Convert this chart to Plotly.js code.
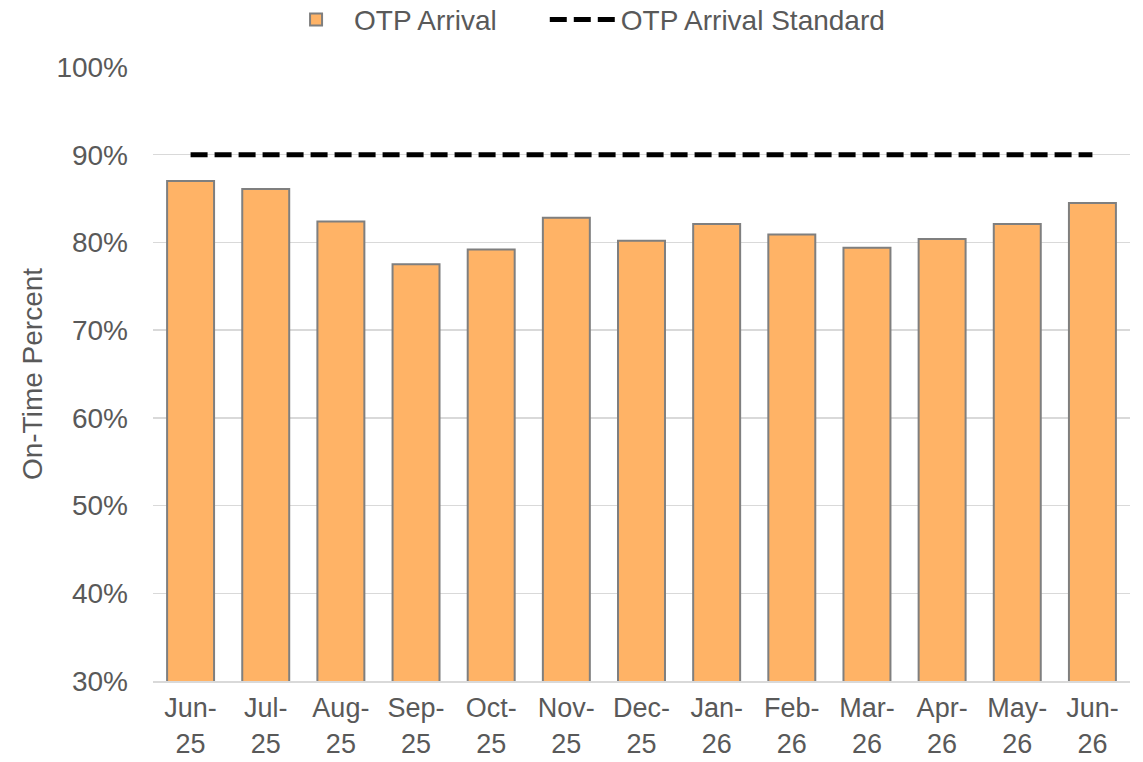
<!DOCTYPE html>
<html>
<head>
<meta charset="utf-8">
<script src="https://cdn.plot.ly/plotly-3.0.1.min.js"></script>
<style>html,body{margin:0;padding:0;background:#fff;}#chart{width:1143px;height:762px;}</style>
</head>
<body>
<div id="chart"></div>
<script>
const categories = ["Jun-<br>25","Jul-<br>25","Aug-<br>25","Sep-<br>25","Oct-<br>25","Nov-<br>25","Dec-<br>25","Jan-<br>26","Feb-<br>26","Mar-<br>26","Apr-<br>26","May-<br>26","Jun-<br>26"];
const otpArrival = [87.0, 86.1, 82.4, 77.5, 79.2, 82.8, 80.2, 82.1, 80.9, 79.4, 80.4, 82.1, 84.5];
const otpStandard = [90, 90, 90, 90, 90, 90, 90, 90, 90, 90, 90, 90, 90];

const font = "Liberation Sans, Arial, sans-serif";
const textColor = "#595959";

const traces = [
  {
    type: "bar",
    name: "OTP Arrival",
    x: categories,
    y: otpArrival,
    marker: {color: "#FFB366", line: {color: "#7F7F7F", width: 2}},
    legend: "legend",
    hoverinfo: "skip"
  },
  {
    type: "scatter",
    mode: "lines",
    name: "OTP Arrival Standard",
    x: categories,
    y: otpStandard,
    line: {color: "#000000", width: 5, dash: "17px,7px"},
    legend: "legend2",
    hoverinfo: "skip"
  }
];

const legendBase = {
  orientation: "h",
  xanchor: "left",
  y: 0.974,
  yref: "container",
  yanchor: "middle",
  font: {family: font, size: 28, color: textColor},
  itemwidth: 66,
  bgcolor: "rgba(0,0,0,0)"
};

const layout = {
  width: 1143,
  height: 762,
  margin: {l: 153, r: 13, t: 67, b: 81},
  paper_bgcolor: "#ffffff",
  plot_bgcolor: "#ffffff",
  font: {family: font, size: 28, color: textColor},
  bargap: 0.375,
  showlegend: true,
  legend: Object.assign({}, legendBase, {x: 0.128}),
  legend2: Object.assign({}, legendBase, {x: 0.401}),
  xaxis: {
    type: "category",
    showline: true,
    linecolor: "#D9D9D9",
    linewidth: 2,
    showgrid: false,
    ticks: "",
    ticklabelstandoff: 2,
    tickfont: {family: font, size: 27, color: textColor},
    automargin: false
  },
  yaxis: {
    range: [30, 100],
    dtick: 10,
    ticksuffix: "%",
    showgrid: true,
    gridcolor: "#D9D9D9",
    gridwidth: 1.5,
    zeroline: false,
    showline: false,
    ticks: "",
    ticklabelstandoff: 24,
    tickfont: {family: font, size: 28, color: textColor},
    title: {text: "On-Time Percent", font: {family: font, size: 28, color: textColor}, standoff: 5},
    automargin: false
  }
};

Plotly.newPlot("chart", traces, layout, {displayModeBar: false, staticPlot: true});
</script>
</body>
</html>
